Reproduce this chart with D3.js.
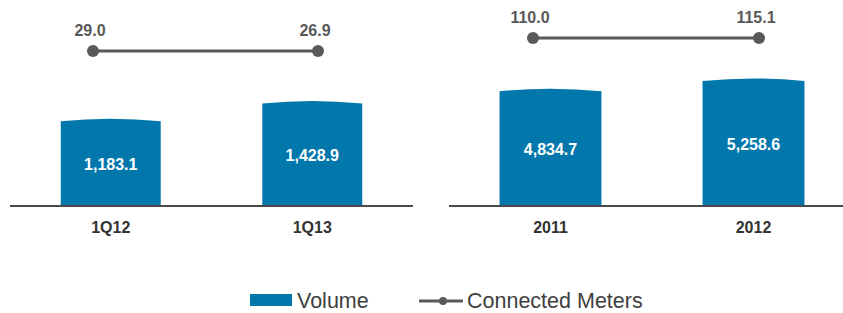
<!DOCTYPE html>
<html>
<head>
    <title>Volume and Connected Meters</title>
    <script src="https://d3js.org/d3.v7.min.js"></script>
    <style>
        body { margin: 0; background: #fff; }
        svg { display: block; font-family: "Liberation Sans", Arial, sans-serif; }
        .cat-label { font-size: 16px; font-weight: bold; fill: #333; text-anchor: middle; }
        .bar-label { font-size: 16px; font-weight: bold; fill: #fff; text-anchor: middle; }
        .line-label { font-size: 16px; font-weight: bold; fill: #595959; text-anchor: middle; }
        .legend text { font-size: 21.5px; fill: #404040; }
    </style>
</head>
<body>
<div id="chart"></div>
<script>
    // Quarterly panel
    const quarters = ["1Q12", "1Q13"];
    const quarterVolume = [1183.1, 1428.9];
    const quarterMeters = [29.0, 26.9];

    // Yearly panel
    const years = ["2011", "2012"];
    const yearVolume = [4834.7, 5258.6];
    const yearMeters = [110.0, 115.1];

    const W = 843, H = 313;
    const baseY = 206;
    const barColor = "#0277ab";
    const lineColor = "#595959";
    const fmt = d3.format(",.1f");

    const svg = d3.select("#chart").append("svg")
        .attr("width", W).attr("height", H);

    // one panel = bars + flat connected-meters line
    function drawPanel(opt) {
        const x = d3.scaleBand()
            .domain(opt.cats)
            .range(opt.xRange)
            .paddingInner(opt.pad)
            .paddingOuter(opt.pad / 2);

        const y = d3.scaleLinear()
            .domain(opt.yDomain)
            .range([baseY, opt.yTop]);

        const lx = d3.scalePoint()
            .domain(opt.cats)
            .range(opt.lineRange);

        // connected meters drawn flat, as in the original
        const ly = d3.scaleLinear()
            .domain(d3.extent(opt.meters))
            .range([opt.lineY, opt.lineY]);

        const data = opt.cats.map((c, i) => ({ cat: c, vol: opt.volume[i], met: opt.meters[i] }));
        const g = svg.append("g");

        // bars with slightly arched top
        g.selectAll(".bar")
            .data(data)
            .join("path")
            .attr("class", "bar")
            .attr("fill", barColor)
            .attr("d", d => {
                const x0 = x(d.cat), x1 = x0 + x.bandwidth();
                const yt = y(d.vol);
                return `M${x0},${baseY}L${x0},${yt + 1}Q${(x0 + x1) / 2},${yt - 4} ${x1},${yt + 1}L${x1},${baseY}Z`;
            });

        g.selectAll(".bar-label")
            .data(data)
            .join("text")
            .attr("class", "bar-label")
            .attr("x", d => x(d.cat) + x.bandwidth() / 2)
            .attr("y", d => (y(d.vol) + baseY) / 2 + 7)
            .text(d => fmt(d.vol));

        // baseline
        g.append("line")
            .attr("x1", opt.xRange[0]).attr("x2", opt.axisEnd)
            .attr("y1", baseY).attr("y2", baseY)
            .attr("stroke", "#4a4a4a").attr("stroke-width", 2);

        g.selectAll(".cat-label")
            .data(data)
            .join("text")
            .attr("class", "cat-label")
            .attr("x", d => x(d.cat) + x.bandwidth() / 2)
            .attr("y", 233)
            .text(d => d.cat);

        // connected meters line
        g.append("path")
            .datum(data)
            .attr("fill", "none")
            .attr("stroke", lineColor)
            .attr("stroke-width", 3)
            .attr("d", d3.line().x(d => lx(d.cat)).y(d => ly(d.met)));

        g.selectAll(".dot")
            .data(data)
            .join("circle")
            .attr("class", "dot")
            .attr("cx", d => lx(d.cat))
            .attr("cy", d => ly(d.met))
            .attr("r", 6)
            .attr("fill", lineColor);

        g.selectAll(".line-label")
            .data(data)
            .join("text")
            .attr("class", "line-label")
            .attr("x", d => lx(d.cat) - 3)
            .attr("y", d => ly(d.met) - 15)
            .text(d => d.met.toFixed(1));
    }

    drawPanel({
        cats: quarters, volume: quarterVolume, meters: quarterMeters,
        xRange: [10, 413], axisEnd: 413, pad: 0.504,
        yDomain: [0, 1450], yTop: 101,
        lineRange: [93, 318], lineY: 51
    });

    drawPanel({
        cats: years, volume: yearVolume, meters: yearMeters,
        xRange: [449, 855], axisEnd: 843, pad: 0.498,
        yDomain: [0, 5300], yTop: 79,
        lineRange: [533, 759], lineY: 38
    });

    // legend
    const legend = svg.append("g").attr("class", "legend");
    legend.append("rect")
        .attr("x", 250).attr("y", 294).attr("width", 42).attr("height", 12)
        .attr("fill", barColor);
    legend.append("text").attr("x", 297).attr("y", 308).text("Volume");

    legend.append("line")
        .attr("x1", 419).attr("x2", 463).attr("y1", 301).attr("y2", 301)
        .attr("stroke", lineColor).attr("stroke-width", 3);
    legend.append("circle")
        .attr("cx", 443).attr("cy", 301).attr("r", 4)
        .attr("fill", lineColor);
    legend.append("text").attr("x", 467).attr("y", 308).text("Connected Meters");
</script>
</body>
</html>
